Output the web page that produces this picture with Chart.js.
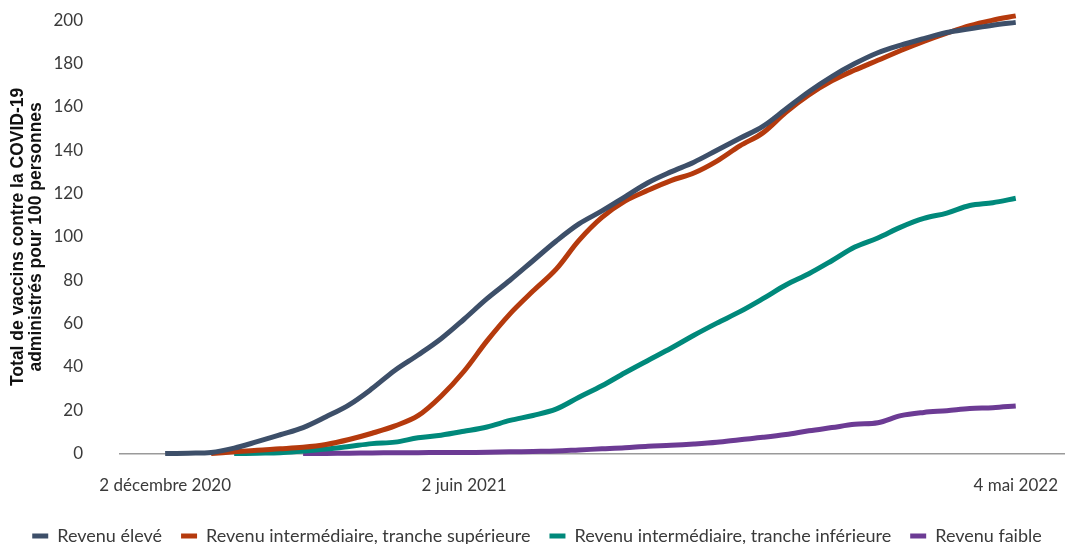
<!DOCTYPE html>
<html lang="fr">
<head>
    <meta charset="UTF-8">
    <title>Vaccins COVID-19 par groupe de revenu</title>
    <script src="https://cdn.jsdelivr.net/npm/chart.js"></script>
    <style>
        html, body {
            margin: 0;
            padding: 0;
            background: #ffffff;
            overflow: hidden;
        }
        #wrap {
            width: 1065px;
            height: 555px;
            position: relative;
        }
    </style>
</head>
<body>
    <div id="wrap"><canvas id="chart"></canvas></div>

    <script>
        // jours depuis le 2 décembre 2020
        const days = [0, 14, 28, 42, 56, 70, 84, 98, 112, 126, 140, 154, 168, 182, 196, 210, 224, 238, 252,
            266, 280, 294, 308, 322, 336, 350, 364, 378, 392, 406, 420, 434, 448, 462, 476, 490, 504, 518];

        const tickDays = [0, 182, 518];
        const tickLabels = ['2 décembre 2020', '2 juin 2021', '4 mai 2022'];

        const revenuEleve = [0, 0.2, 0.5, 2.5, 5.5, 8.7, 12, 17, 22.5, 30, 38.5, 45.5, 53, 62, 71.5, 80, 89, 98, 106,
            112, 118.5, 125, 130, 134.5, 140, 145.5, 151, 159, 167, 174, 180, 185, 188.5, 191.5, 194.3, 196, 197.7, 199];

        const revenuSup = [null, null, 0, 0.8, 1.6, 2.2, 2.9, 4.2, 6.5, 9.4, 12.8, 17.5, 26.5, 38, 52, 64.5, 75, 85, 98.4,
            109, 116.5, 121.5, 126, 129.5, 135, 142, 148, 157.5, 165.5, 172, 177, 181.5, 186, 190.2, 194, 197.5, 200, 202];

        const revenuInf = [null, null, null, 0, 0.2, 0.4, 1.2, 2.1, 3.3, 4.6, 5.3, 7.3, 8.5, 10.3, 12.3, 15.3, 17.6, 20.5, 26,
            31.3, 37.3, 43, 48.6, 54.6, 60.2, 65.5, 71.5, 77.8, 83, 89, 95.3, 99.5, 104.5, 108.5, 111, 114.5, 115.8, 117.8];

        const revenuFaible = [null, null, null, null, null, null, 0, 0.1, 0.2, 0.3, 0.4, 0.4, 0.5, 0.5, 0.6, 0.8, 1.0, 1.2, 1.7,
            2.2, 2.7, 3.4, 3.8, 4.4, 5.2, 6.4, 7.5, 8.8, 10.5, 12, 13.5, 14.2, 17.5, 19, 19.8, 20.8, 21.2, 22];

        const seriesNames = [
            'Revenu élevé',
            'Revenu intermédiaire, tranche supérieure',
            'Revenu intermédiaire, tranche inférieure',
            'Revenu faible'
        ];
        const seriesColors = ['#3d4f69', '#b53a0d', '#00897b', '#6c3b94'];
        const seriesValues = [revenuEleve, revenuSup, revenuInf, revenuFaible];

        const toPoints = (values) => days.map((d, i) => ({ x: d, y: values[i] }));

        const datasets = seriesValues.map((values, i) => ({
            label: seriesNames[i],
            data: toPoints(values),
            borderColor: seriesColors[i],
            backgroundColor: seriesColors[i],
            borderWidth: 5,
            pointRadius: 0,
            tension: 0.35,
            clip: 8
        }));

        const txt = '#3a3a3a';

        new Chart(document.getElementById('chart'), {
            type: 'line',
            data: { datasets },
            options: {
                responsive: true,
                maintainAspectRatio: false,
                animation: false,
                layout: { padding: { top: 0, right: 0, left: 9, bottom: 0 } },
                scales: {
                    x: {
                        type: 'linear',
                        min: -27.5,
                        max: 548,
                        // marques invisibles : elles ne servent qu'à écarter les libellés de l'axe
                        grid: { display: false, drawTicks: true, tickLength: 20 },
                        border: { display: true, color: '#9a9a9a', width: 1.5 },
                        afterBuildTicks: (scale) => {
                            scale.ticks = tickDays.map(v => ({ value: v }));
                        },
                        afterFit: (scale) => { scale.height += 10; },
                        ticks: {
                            autoSkip: false,
                            maxRotation: 0,
                            padding: 2,
                            color: txt,
                            font: { family: 'Lato', size: 17 },
                            callback: (value) => tickLabels[tickDays.indexOf(value)]
                        }
                    },
                    y: {
                        min: 0,
                        max: 200,
                        grid: { display: false, drawTicks: true, tickLength: 27 },
                        border: { display: false },
                        afterFit: (scale) => { scale.width = 111; },
                        ticks: {
                            stepSize: 20,
                            padding: 10,
                            color: txt,
                            font: { family: 'Lato', size: 17 }
                        },
                        title: {
                            display: true,
                            text: ['Total de vaccins contre la COVID-19', 'administrés pour 100 personnes'],
                            color: '#111',
                            font: { family: 'Liberation Sans', size: 17.5, weight: 'bold', lineHeight: 1.05 },
                            padding: { top: 0, bottom: 0 }
                        }
                    }
                },
                plugins: {
                    legend: {
                        position: 'bottom',
                        labels: {
                            boxWidth: 16,
                            boxHeight: 5,
                            padding: 19,
                            color: txt,
                            font: { family: 'Lato', size: 18 },
                            generateLabels: (chart) => {
                                const items = Chart.defaults.plugins.legend.labels.generateLabels(chart);
                                items.forEach(it => { it.lineWidth = 0; });
                                return items;
                            }
                        }
                    },
                    tooltip: { enabled: false }
                }
            }
        });
    </script>
</body>
</html>
